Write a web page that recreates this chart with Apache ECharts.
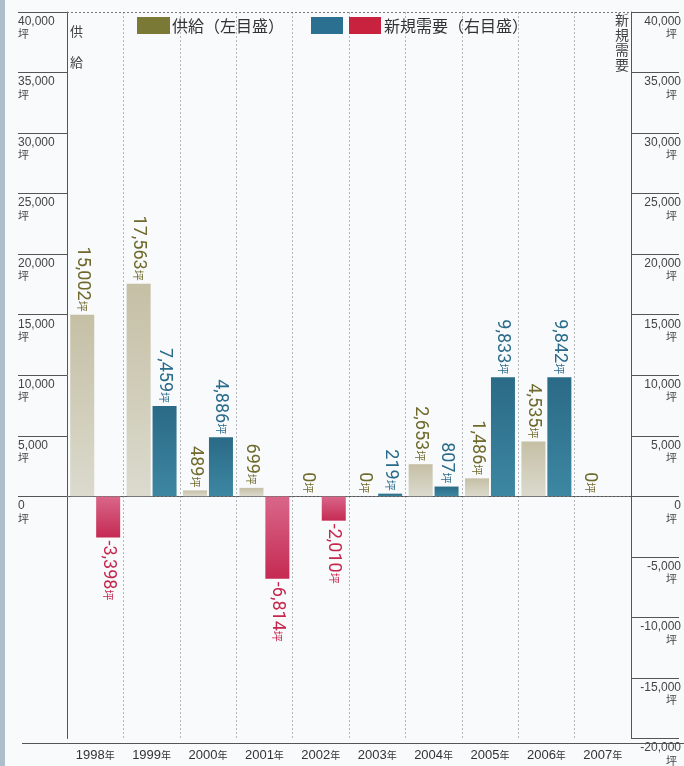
<!DOCTYPE html>
<html>
<head>
<meta charset="utf-8">
<script src="https://cdn.jsdelivr.net/npm/echarts@6/dist/echarts.min.js"></script>
<style>
html,body{margin:0;padding:0;background:#f8fafc;}
#main{width:684px;height:766px;}
</style>
</head>
<body>
<div id="main"></div>
<script>
// 年度
var years = ['1998', '1999', '2000', '2001', '2002', '2003', '2004', '2005', '2006', '2007'];
// 供給（左目盛）
var supply = [15002, 17563, 489, 699, 0, 0, 2653, 1486, 4535, 0];
// 新規需要（右目盛）
var demand = [-3398, 7459, 4886, -6814, -2010, 219, 807, 9833, 9842, null];
// 目盛
var leftTicks = [0, 5000, 10000, 15000, 20000, 25000, 30000, 35000, 40000];
var axisMin = -20000, axisMax = 40000, axisStep = 5000;

var NUM_FONT = 'Roboto,"Liberation Sans","Noto Sans CJK JP",sans-serif';
var AXIS_FONT = '"Liberation Sans",Roboto,sans-serif';
var JP_FONT = '"Noto Sans CJK JP",sans-serif';

function fmt(v) {
    var s = Math.abs(v).toString().replace(/\B(?=(\d{3})+(?!\d))/g, ',');
    return (v < 0 ? '-' : '') + s;
}

function barLabel(v, color) {
    var neg = v < 0;
    return {
        show: true,
        position: neg ? 'bottom' : 'top',
        rotate: -90,
        align: neg ? 'left' : 'right',
        verticalAlign: 'middle',
        distance: 3,
        formatter: '{n|' + fmt(v) + '}{u|坪}',
        rich: {
            n: {fontSize: 18, color: color, fontFamily: NUM_FONT},
            u: {fontSize: 11, color: color, fontFamily: JP_FONT}
        }
    };
}

var supplyData = supply.map(function (v) {
    return {value: v, label: barLabel(v, '#6f6a2c')};
});
var demandData = demand.map(function (v) {
    if (v === null) return {value: null};
    var neg = v < 0;
    return {
        value: v,
        itemStyle: {
            color: neg
                ? new echarts.graphic.LinearGradient(0, 0, 0, 1, [{offset: 0, color: '#d9678a'}, {offset: 1, color: '#c52a52'}])
                : new echarts.graphic.LinearGradient(0, 0, 0, 1, [{offset: 0, color: '#2a6a86'}, {offset: 1, color: '#3d87a2'}])
        },
        label: barLabel(v, neg ? '#c4264c' : '#2b6b8a')
    };
});

function axisLabelFmt(v) {
    return '{n|' + fmt(v) + '}\n{u|坪}';
}
var axisRich = {
    n: {fontSize: 12, color: '#444', fontFamily: AXIS_FONT, lineHeight: 13},
    u: {fontSize: 11, color: '#444', fontFamily: JP_FONT, lineHeight: 12}
};

var myChart = echarts.init(document.getElementById('main'));
var option = {
    backgroundColor: '#f8fafc',
    animation: false,
    grid: {left: 67, right: 48, top: 12, bottom: 23},
    xAxis: {
        type: 'category',
        data: years,
        position: 'bottom',
        axisLine: {show: true, lineStyle: {color: '#555', width: 1}},
        axisTick: {show: false},
        splitLine: {show: true, interval: 0, lineStyle: {color: '#b5b8bb', type: [2, 2], width: 1}},
        axisLabel: {
            interval: 0,
            margin: 10,
            formatter: function (v) { return '{n|' + v + '}{u|年}'; },
            rich: {
                n: {fontSize: 13, color: '#333', fontFamily: AXIS_FONT},
                u: {fontSize: 10, color: '#333', fontFamily: JP_FONT}
            }
        }
    },
    yAxis: [
        {
            type: 'value',
            min: axisMin, max: axisMax, interval: axisStep,
            position: 'left',
            axisLine: {show: true, lineStyle: {color: '#555'}},
            axisTick: {show: true, length: 49, customValues: leftTicks, lineStyle: {color: '#555'}},
            axisLabel: {
                customValues: leftTicks,
                align: 'left',
                verticalAlign: 'top',
                margin: 49,
                padding: [3, 0, 0, 0],
                formatter: axisLabelFmt,
                rich: axisRich
            },
            splitLine: {show: false}
        },
        {
            type: 'value',
            min: axisMin, max: axisMax, interval: axisStep,
            position: 'right',
            axisLine: {show: true, lineStyle: {color: '#555'}},
            axisTick: {show: true, length: 48, lineStyle: {color: '#555'}},
            axisLabel: {
                align: 'right',
                verticalAlign: 'top',
                margin: 50,
                padding: [3, 0, 0, 0],
                formatter: axisLabelFmt,
                rich: {
                    n: axisRich.n,
                    u: {fontSize: 11, color: '#444', fontFamily: JP_FONT, lineHeight: 12, padding: [0, 4, 0, 0]}
                }
            },
            splitLine: {show: false}
        }
    ],
    series: [
        {
            name: '供給',
            type: 'bar',
            yAxisIndex: 0,
            barWidth: 24,
            barGap: '8%',
            itemStyle: {
                color: new echarts.graphic.LinearGradient(0, 0, 0, 1, [{offset: 0, color: '#c5bfa5'}, {offset: 1, color: '#dbdacd'}])
            },
            data: supplyData,
            markLine: {
                silent: true,
                symbol: 'none',
                label: {show: false},
                lineStyle: {color: '#777', type: [2, 2], width: 1},
                data: [{yAxis: 0}, {yAxis: axisMax}]
            }
        },
        {
            name: '新規需要',
            type: 'bar',
            yAxisIndex: 1,
            barWidth: 24,
            data: demandData
        }
    ],
    graphic: [
        {type: 'rect', left: 0, top: 0, shape: {width: 5, height: 766}, style: {fill: '#aebfcc'}, z: 10},
        {type: 'line', shape: {x1: 22, y1: 743.5, x2: 684, y2: 743.5}, style: {stroke: '#555', lineWidth: 1}, z: 10},
        // 凡例
        {type: 'rect', shape: {x: 137, y: 17, width: 33, height: 17}, style: {fill: '#7b7936'}, z: 10},
        {type: 'text', x: 172, y: 26, style: {text: '供給（左目盛）', font: '16px "Noto Sans CJK JP"', fill: '#333', verticalAlign: 'middle'}, z: 10},
        {type: 'rect', shape: {x: 311, y: 17, width: 32, height: 17}, style: {fill: '#2b7090'}, z: 10},
        {type: 'rect', shape: {x: 349, y: 17, width: 32, height: 17}, style: {fill: '#c8223f'}, z: 10},
        {type: 'text', x: 384, y: 26, style: {text: '新規需要（右目盛）', font: '16px "Noto Sans CJK JP"', fill: '#333', verticalAlign: 'middle'}, z: 10},
        // 軸名
        {type: 'text', x: 70, y: 16, style: {text: '供\n給', font: '13px "Noto Sans CJK JP"', lineHeight: 31, fill: '#444'}, z: 10},
        {type: 'text', x: 615, y: 12, style: {text: '新\n規\n需\n要', font: '14px "Noto Sans CJK JP"', lineHeight: 15, fill: '#444'}, z: 10}
    ]
};
myChart.setOption(option);
</script>
</body>
</html>
